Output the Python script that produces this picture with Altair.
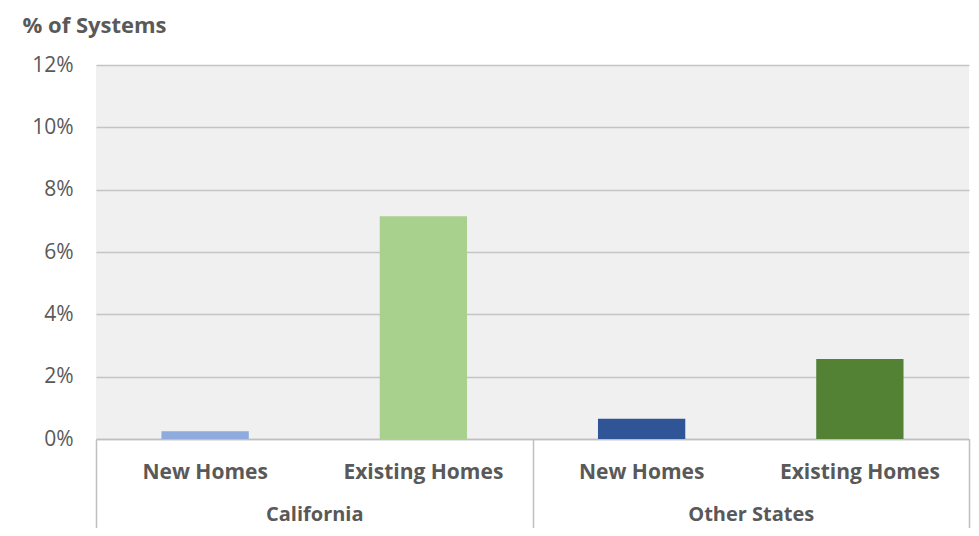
import altair as alt
import pandas as pd

# ---- data ----
regions = ["California", "California", "Other States", "Other States"]
home_types = ["New Homes", "Existing Homes", "New Homes", "Existing Homes"]
shares = [0.0025, 0.0715, 0.0065, 0.0257]
bar_colors = ["#8faadc", "#a9d18e", "#2f5597", "#548235"]
y_ticks = [0.0, 0.02, 0.04, 0.06, 0.08, 0.10, 0.12]
group_labels = ["California", "Other States"]

keys = [f"{r}|{h}" for r, h in zip(regions, home_types)]
df = pd.DataFrame({"key": keys, "region": regions, "home": home_types, "share": shares})
groups_df = pd.DataFrame({"region": group_labels})

FONT = "Open Sans"
GRAY = "#595959"
LINE = "#bfbfbf"

bars = alt.Chart(df).mark_bar().encode(
    x=alt.X(
        "key:N", sort=keys, title=None,
        scale=alt.Scale(paddingInner=0.6, paddingOuter=0.3),
        axis=alt.Axis(
            orient="bottom",
            labelExpr="split(datum.label, '|')[1]", labelAngle=0, ticks=False,
            domain=True, domainColor=LINE, domainWidth=1.5, grid=False,
            labelPadding=22, labelFontSize=21, labelFont=FONT, labelFontWeight="bold",
            labelColor=GRAY,
        ),
    ),
    y=alt.Y(
        "share:Q", title="% of Systems",
        scale=alt.Scale(domain=[0, 0.12], nice=False),
        axis=alt.Axis(
            values=y_ticks, format=".0%", ticks=False, domain=False,
            grid=True, gridColor="#c4c4c4", gridWidth=1.5,
            labelPadding=23, labelFontSize=21, labelFont=FONT, labelColor=GRAY,
            titleAngle=0, titleAlign="left", titleBaseline="middle",
            titleX=-74, titleY=-40, titleFontSize=22, titleFont=FONT,
            titleFontWeight="bold", titleColor=GRAY,
        ),
    ),
    color=alt.Color("key:N", sort=keys, scale=alt.Scale(domain=keys, range=bar_colors), legend=None),
)

groups = alt.Chart(groups_df).mark_point(opacity=0).encode(
    x=alt.X(
        "region:N", sort=group_labels, title=None,
        scale=alt.Scale(type="band", paddingInner=0, paddingOuter=0),
        axis=alt.Axis(
            orient="bottom", tickBand="extent", ticks=True, tickSize=100,
            tickColor=LINE, tickWidth=1.5, domain=False, grid=False,
            labelAngle=0, labelPadding=-35, labelFontSize=20, labelFont=FONT,
            labelFontWeight="bold", labelColor=GRAY,
        ),
    ),
)

chart = (
    alt.layer(bars, groups)
    .resolve_scale(x="independent")
    .properties(
        width=873, height=374,
        autosize=alt.AutoSizeParams(type="none"),
        padding={"left": 88, "top": 57, "right": 2, "bottom": 89},
        background="white",
    )
    .configure_view(fill="#f0f0f0", strokeWidth=0)
)

chart.save("out.html", embed_options={"renderer": "svg", "actions": False})
